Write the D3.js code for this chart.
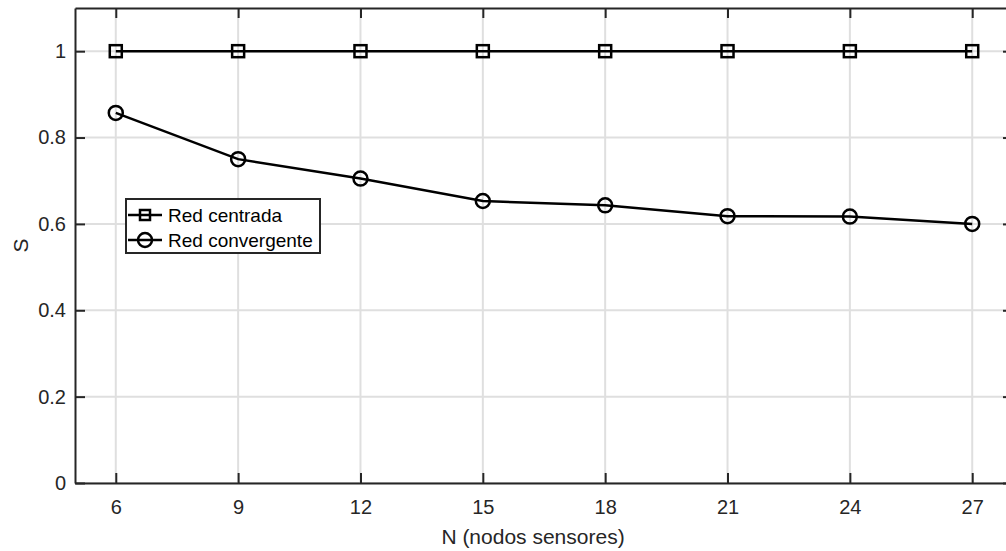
<!DOCTYPE html>
<html>
<head>
<meta charset="utf-8">
<script src="https://cdn.jsdelivr.net/npm/d3@7"></script>
<style>
	body { margin: 0; background: #fff; }
	svg { display: block; font-family: "Liberation Sans", Arial, sans-serif; }
</style>
</head>
<body>
<div class="plot"></div>
<script>
// Sensor counts and the S value for each network type
const nodes = [6, 9, 12, 15, 18, 21, 24, 27];
const redCentrada = [1, 1, 1, 1, 1, 1, 1, 1];
const redConvergente = [0.857, 0.75, 0.705, 0.653, 0.643, 0.618, 0.617, 0.6];
const yTicks = [0, 0.2, 0.4, 0.6, 0.8, 1];
const seriesNames = ['Red centrada', 'Red convergente'];

const w = 1006, h = 551;
const margin = {left: 75, top: 8, right: -7, bottom: 68};
const axisColor = '#262626';

const svg = d3.select('.plot').append('svg')
	.attr('width', w)
	.attr('height', h);

const x = d3.scaleLinear().domain([5, 28]).range([margin.left, w - margin.right]);
const y = d3.scaleLinear().domain([0, 1.1]).range([h - margin.bottom, margin.top]);

const x0 = x.range()[0], x1 = x.range()[1];
const y0 = y.range()[0], y1 = y.range()[1];

// Grid
const grid = svg.append('g').attr('stroke', '#dfdfdf').attr('stroke-width', 2);
grid.selectAll('.gx').data(nodes).enter().append('line')
	.attr('x1', d => x(d)).attr('x2', d => x(d))
	.attr('y1', y1).attr('y2', y0);
grid.selectAll('.gy').data(yTicks).enter().append('line')
	.attr('x1', x0).attr('x2', x1)
	.attr('y1', d => y(d)).attr('y2', d => y(d));

// Axes with inward ticks on all four sides
const tick = 10;
const axisB = svg.append('g')
	.attr('transform', `translate(0,${y0})`)
	.call(d3.axisBottom(x).tickValues(nodes).tickSizeInner(-tick).tickSizeOuter(0).tickPadding(17));
const axisT = svg.append('g')
	.attr('transform', `translate(0,${y1})`)
	.call(d3.axisTop(x).tickValues(nodes).tickSizeInner(-tick).tickSizeOuter(0).tickFormat(''));
const axisL = svg.append('g')
	.attr('transform', `translate(${x0},0)`)
	.call(d3.axisLeft(y).tickValues(yTicks).tickSizeInner(-tick).tickSizeOuter(0).tickPadding(9).tickFormat(d => d));
const axisR = svg.append('g')
	.attr('transform', `translate(${x1},0)`)
	.call(d3.axisRight(y).tickValues(yTicks).tickSizeInner(-tick).tickSizeOuter(0).tickFormat(''));

[axisB, axisT, axisL, axisR].forEach(g => {
	g.attr('font-family', null).attr('font-size', null);
	g.select('.domain').attr('stroke', axisColor).attr('stroke-width', 2);
	g.selectAll('.tick line').attr('stroke', axisColor).attr('stroke-width', 2);
	g.selectAll('.tick text').attr('fill', axisColor).style('font-size', '20px');
});
axisB.selectAll('.tick text').attr('dy', '0.71em');

// Axis labels
svg.append('text')
	.attr('x', 533).attr('y', 544)
	.attr('text-anchor', 'middle')
	.attr('fill', axisColor)
	.style('font-size', '21px')
	.text('N (nodos sensores)');
svg.append('text')
	.attr('transform', `translate(28,${(y0 + y1) / 2}) rotate(-90)`)
	.attr('text-anchor', 'middle')
	.attr('fill', axisColor)
	.style('font-size', '21px')
	.text('S');

// Lines and markers
const line = d3.line().x(d => x(d[0])).y(d => y(d[1]));
const sq = 12, rc = 7, lw = 2.5;

function drawSeries(values, marker){
	const pts = nodes.map((n, i) => [n, values[i]]);
	svg.append('path')
		.datum(pts)
		.attr('d', line)
		.attr('fill', 'none')
		.attr('stroke', '#000')
		.attr('stroke-width', lw);
	const g = svg.append('g').attr('fill', 'none').attr('stroke', '#000').attr('stroke-width', lw);
	if (marker === 'square') {
		g.selectAll('rect').data(pts).enter().append('rect')
			.attr('x', d => x(d[0]) - sq / 2).attr('y', d => y(d[1]) - sq / 2)
			.attr('width', sq).attr('height', sq);
	} else {
		g.selectAll('circle').data(pts).enter().append('circle')
			.attr('cx', d => x(d[0])).attr('cy', d => y(d[1]))
			.attr('r', rc);
	}
}
drawSeries(redCentrada, 'square');
drawSeries(redConvergente, 'circle');

// Legend
const legend = svg.append('g').attr('transform', 'translate(126,199)');
legend.append('rect')
	.attr('width', 194).attr('height', 54)
	.attr('fill', '#fff')
	.attr('stroke', axisColor)
	.attr('stroke-width', 2);
const rows = legend.selectAll('.row').data(seriesNames).enter().append('g')
	.attr('transform', (d, i) => `translate(0,${16 + i * 25})`);
rows.append('line')
	.attr('x1', 2).attr('x2', 36)
	.attr('stroke', '#000').attr('stroke-width', lw);
rows.filter((d, i) => i === 0).append('rect')
	.attr('x', 19 - sq / 2 + 1).attr('y', -sq / 2 + 1)
	.attr('width', sq - 2).attr('height', sq - 2)
	.attr('fill', 'none').attr('stroke', '#000').attr('stroke-width', lw);
rows.filter((d, i) => i === 1).append('circle')
	.attr('cx', 19).attr('r', rc)
	.attr('fill', 'none').attr('stroke', '#000').attr('stroke-width', lw);
rows.append('text')
	.attr('x', 42).attr('dy', '0.35em')
	.attr('fill', '#000')
	.style('font-size', '19px')
	.text(d => d);
</script>
</body>
</html>
